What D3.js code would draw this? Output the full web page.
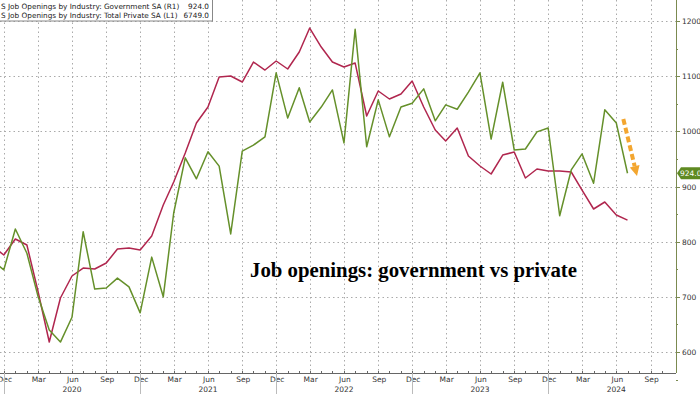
<!DOCTYPE html>
<html><head><meta charset="utf-8">
<script src="https://cdn.jsdelivr.net/npm/d3@7"></script>
<style>html,body{margin:0;padding:0;background:#fff;}svg{display:block;}</style>
</head><body>
<svg id="c" width="700" height="394"></svg>
<script>
// Months (Nov 2019 .. Jul 2024)
const months = ["2019-11","2019-12","2020-01","2020-02","2020-03","2020-04","2020-05","2020-06","2020-07","2020-08","2020-09","2020-10","2020-11","2020-12",
"2021-01","2021-02","2021-03","2021-04","2021-05","2021-06","2021-07","2021-08","2021-09","2021-10","2021-11","2021-12",
"2022-01","2022-02","2022-03","2022-04","2022-05","2022-06","2022-07","2022-08","2022-09","2022-10","2022-11","2022-12",
"2023-01","2023-02","2023-03","2023-04","2023-05","2023-06","2023-07","2023-08","2023-09","2023-10","2023-11","2023-12",
"2024-01","2024-02","2024-03","2024-04","2024-05","2024-06","2024-07"];
// US Job Openings: Government SA (R1), thousands
const government = [765,749,823,779,703,640,618,663,818,714,716,734,718,671,772,700,852,952,914,963,937,814,964,975,990,1106,1024,1079,1017,1044,1075,979,1185,972,1057,990,1044,1051,1077,1019,1048,1040,1071,1106,986,1089,966,968,999,1006,847,930,959,906,1039,1015,924];
// US Job Openings: Total Private SA (L1), thousands
const privateSector = [6190,5995,6341,6211,5239,4116,5066,5542,5714,5693,5822,6125,6146,6103,6406,7075,7572,8198,8846,9192,9840,9862,9732,10164,9991,10186,10013,10380,10898,10488,10164,10056,10142,8998,9538,9365,9473,9754,9192,8695,8458,8738,8134,7918,7745,8155,8220,7658,7853,7810,7810,7788,7399,6989,7140,6859,6749];
const rightTicks = [600,700,800,900,1000,1100,1200];
const legendLabels = ["S Job Openings by Industry: Government SA (R1)","S Job Openings by Industry: Total Private SA (L1)"];
const legendValues = ["924.0","6749.0"];
const lastLabel = "924.0";
const title = "Job openings: government vs private";

const parse = d3.timeParse("%Y-%m");
const dates = months.map(parse);
const svg = d3.select("#c");
const plotRight = 676, axisY = 373;
const font = "'DejaVu Sans', Tahoma, sans-serif";

const x = d3.scaleTime().domain([parse("2019-12"), parse("2024-07")]).range([3.8, 627.5]);
const yR = d3.scaleLinear().domain([600,1200]).range([352,21]);
const yL = d3.scaleLinear().domain([3900,11050]).range([352,21]);

// horizontal grid
svg.append("g").selectAll("line").data(rightTicks).join("line")
  .attr("x1",0).attr("x2",plotRight).attr("y1",d=>Math.round(yR(d))+0.5).attr("y2",d=>Math.round(yR(d))+0.5)
  .attr("stroke","#aaa").attr("stroke-width",1).attr("stroke-dasharray","1.5,3");
// vertical grid at quarters (Dec, Mar, Jun, Sep)
const qTicks = d3.timeMonth.range(parse("2019-12"), parse("2024-10"), 3);
svg.append("g").selectAll("line").data(qTicks).join("line")
  .attr("x1",d=>Math.round(x(d))+0.5).attr("x2",d=>Math.round(x(d))+0.5).attr("y1",0).attr("y2",axisY)
  .attr("stroke","#aaa").attr("stroke-width",1).attr("stroke-dasharray","1.5,3");

// lines
const lineG = d3.line().x((d,i)=>x(dates[i])).y(d=>yR(d));
const lineP = d3.line().x((d,i)=>x(dates[i])).y(d=>yL(d));
svg.append("path").datum(privateSector).attr("d",lineP).attr("fill","none").attr("stroke","#b0264e").attr("stroke-width",1.5).attr("stroke-linejoin","round");
svg.append("path").datum(government).attr("d",lineG).attr("fill","none").attr("stroke","#65902a").attr("stroke-width",1.5).attr("stroke-linejoin","round");

// bottom axis
svg.append("line").attr("x1",0).attr("x2",plotRight).attr("y1",axisY+0.5).attr("y2",axisY+0.5).attr("stroke","#666");
const allMonths = d3.timeMonth.range(parse("2019-11"), parse("2024-11"));
svg.append("g").selectAll("line").data(allMonths).join("line")
  .attr("x1",d=>Math.round(x(d))+0.5).attr("x2",d=>Math.round(x(d))+0.5).attr("y1",axisY-2).attr("y2",axisY)
  .attr("stroke","#666");
const monthFmt = d3.timeFormat("%b");
svg.append("g").selectAll("text").data(qTicks).join("text")
  .attr("x",d=>x(d)+1).attr("y",382).attr("text-anchor","middle")
  .attr("font-family",font).attr("font-size",7.5).attr("fill","#333").text(d=>monthFmt(d));
const years = [2020,2021,2022,2023,2024];
svg.append("g").selectAll("text").data(years).join("text")
  .attr("x",d=>x(new Date(d,5,1))).attr("y",392).attr("text-anchor","middle")
  .attr("font-family",font).attr("font-size",7.5).attr("fill","#333").text(d=>d);
const decs = years.map(y=>new Date(y-1,11,1));
svg.append("g").selectAll("line").data(decs).join("line")
  .attr("x1",d=>Math.round(x(d))+0.5).attr("x2",d=>Math.round(x(d))+0.5).attr("y1",axisY).attr("y2",394)
  .attr("stroke","#bbb");

// right axis
svg.append("line").attr("x1",plotRight+0.5).attr("x2",plotRight+0.5).attr("y1",0).attr("y2",axisY)
  .attr("stroke","#7b8a50").attr("stroke-width",1);
const minor = d3.range(550,1251,50);
svg.append("g").selectAll("line").data(minor).join("line")
  .attr("x1",plotRight).attr("x2",d=>plotRight+(d%100===0?4:2)).attr("y1",d=>Math.round(yR(d))+0.5).attr("y2",d=>Math.round(yR(d))+0.5)
  .attr("stroke","#7b8a50");
svg.append("g").selectAll("text").data(rightTicks).join("text")
  .attr("x",682).attr("y",d=>yR(d)+3).attr("font-family",font).attr("font-size",7.5).attr("fill","#333").text(d=>d);

// last value tag
const ty = yR(government[government.length-1]);
svg.append("path").attr("d",`M${plotRight+1},${ty} L${plotRight+5},${ty-6} L700,${ty-6} L700,${ty+6} L${plotRight+5},${ty+6} Z`).attr("fill","#5f8a22");
svg.append("text").attr("x",680).attr("y",ty+3).attr("font-family",font).attr("font-size",7.5).attr("fill","#fff").text(lastLabel);

// orange arrow
const ax1 = x(parse("2024-06"))+7, ay1 = 119, ax2 = 637, ay2 = 176;
const ang = Math.atan2(ay2-ay1, ax2-ax1);
const hx = ax2 - 10*Math.cos(ang), hy = ay2 - 10*Math.sin(ang);
svg.append("line").attr("x1",ax1).attr("y1",ay1).attr("x2",hx).attr("y2",hy)
  .attr("stroke","#f3a630").attr("stroke-width",4).attr("stroke-dasharray","6,3");
const px = -Math.sin(ang), py = Math.cos(ang);
svg.append("path").attr("d",`M${ax2},${ay2} L${hx+5*px},${hy+5*py} L${hx-5*px},${hy-5*py} Z`).attr("fill","#f3a630");

// legend box
svg.append("rect").attr("x",-1).attr("y",-1).attr("width",213.5).attr("height",22).attr("fill","#fff").attr("stroke","#888");
legendLabels.forEach((t,i)=>{
  svg.append("text").attr("x",1).attr("y",8.5+i*9.5).attr("font-family",font).attr("font-size",7.3).attr("fill","#222").text(t);
  svg.append("text").attr("x",209).attr("y",8.5+i*9.5).attr("text-anchor","end").attr("font-family",font).attr("font-size",7.3).attr("fill","#222").text(legendValues[i]);
});

// title
svg.append("text").attr("x",250).attr("y",277).attr("font-family","'Liberation Serif','Times New Roman',serif")
  .attr("font-weight","bold").attr("font-size",20.8).attr("fill","#000").text(title);
</script>
</body></html>
